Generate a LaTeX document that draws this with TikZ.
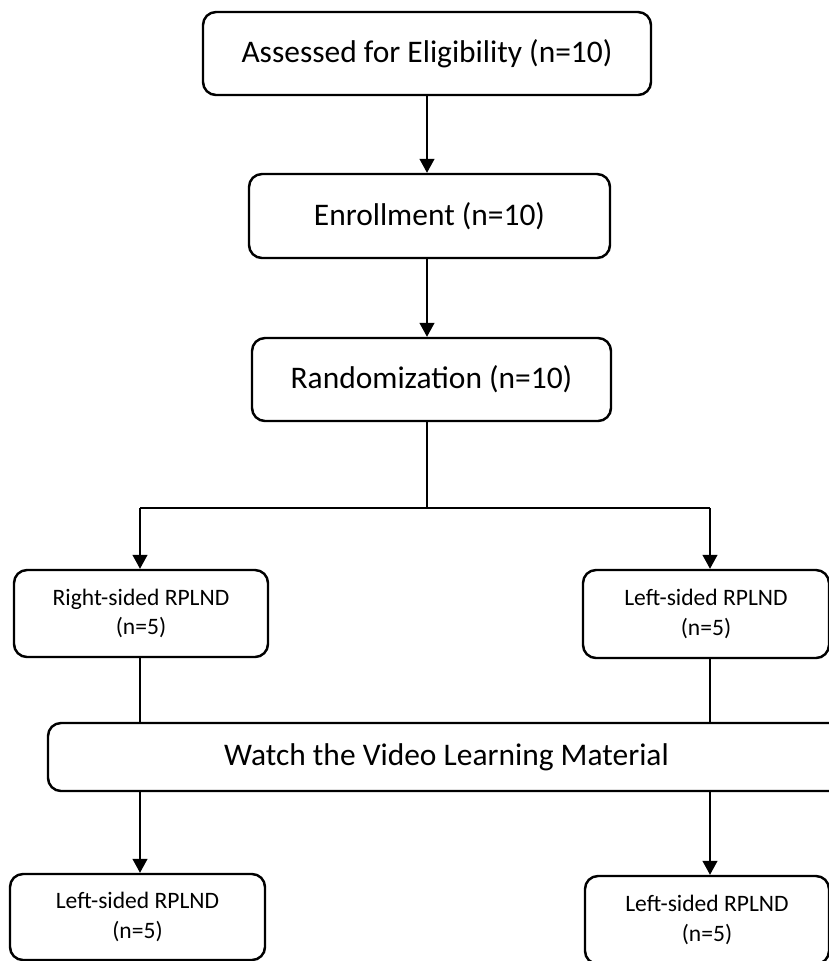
\documentclass[tikz,border=0pt]{standalone}
\usepackage{fontspec}
\setmainfont{Carlito}
\usetikzlibrary{arrows.meta}

\tikzset{
    stagebox/.style={draw, line width=1.4pt, rounded corners=0.26cm, align=center, inner sep=0pt,
                     font=\fontsize{17.9}{21.8}\selectfont},
    armbox/.style={draw, line width=1.4pt, rounded corners=0.26cm, align=center, inner sep=0pt,
                   font=\fontsize{13.4}{16.8}\selectfont},
    flow/.style={line width=0.7pt},
    flowarrow/.style={line width=0.7pt, -{Triangle[width=0.3cm, length=0.28cm]}}
}

\begin{document}
\begin{tikzpicture}[x=0.02cm, y=-0.02cm]
    \useasboundingbox (0,0) rectangle (829,961);
    \clip (0,0) rectangle (829,961);

    % main stages
    \node [stagebox, minimum width=448*0.02cm, minimum height=83*0.02cm] (elig)  at (427, 53.5) {Assessed for Eligibility (n=10)};
    \node [stagebox, minimum width=361*0.02cm, minimum height=84*0.02cm] (enrol) at (429.5, 216) {Enrollment (n=10)};
    \node [stagebox, minimum width=359*0.02cm, minimum height=83*0.02cm] (rand)  at (431.5, 379.5) {Randomization (n=10)};

    % two arms
    \node [armbox, minimum width=254*0.02cm, minimum height=87*0.02cm] (rightarm) at (141, 613.5) {Right-sided RPLND\\(n=5)};
    \node [armbox, minimum width=246*0.02cm, minimum height=88*0.02cm] (leftarm)  at (706, 614) {Left-sided RPLND\\(n=5)};

    \node [stagebox, minimum width=797*0.02cm, minimum height=68*0.02cm] (video) at (446.5, 757) {Watch the Video Learning Material};

    \node [armbox, minimum width=255*0.02cm, minimum height=86*0.02cm] (rightcross) at (137.5, 917) {Left-sided RPLND\\(n=5)};
    \node [armbox, minimum width=244*0.02cm, minimum height=88*0.02cm] (leftcross)  at (707, 920) {Left-sided RPLND\\(n=5)};

    \coordinate (split) at (427, 508);
    \coordinate (lx) at (140, 0);
    \coordinate (rx) at (710, 0);

    \draw [flowarrow] (elig.south) -- (elig.south |- enrol.north);
    \draw [flowarrow] (elig.south |- enrol.south) -- (elig.south |- rand.north);
    \draw [flow] (elig.south |- rand.south) -- (split);
    \draw [flow] (lx |- split) -- (rx |- split);
    \draw [flowarrow] (lx |- split) -- (lx |- rightarm.north);
    \draw [flowarrow] (rx |- split) -- (rx |- leftarm.north);

    \draw [flow] (lx |- rightarm.south) -- (lx |- video.north);
    \draw [flow] (rx |- leftarm.south) -- (rx |- video.north);
    \draw [flowarrow] (lx |- video.south) -- (lx |- rightcross.north);
    \draw [flowarrow] (rx |- video.south) -- (rx |- leftcross.north);
\end{tikzpicture}
\end{document}
